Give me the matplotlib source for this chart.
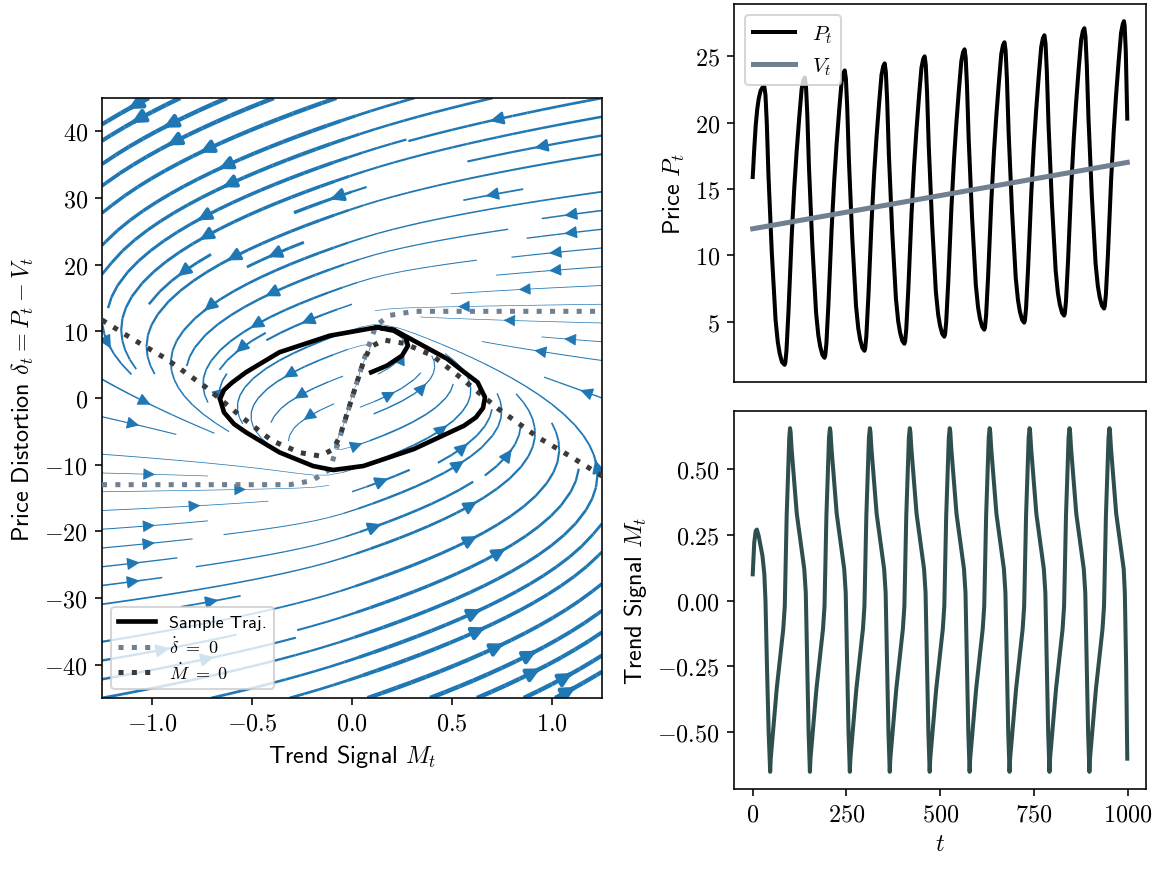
"""
Phase portrait of a trend / price-distortion model plus its time series.
"""

import numpy as np
import matplotlib
matplotlib.use("Agg")
import matplotlib.pyplot as plt
import matplotlib.ticker as ticker


# ─────────────────────────────────────────────
# model parameters (vector field for the streamplot)
# ─────────────────────────────────────────────
ALPHA = 0.05      # mean reversion of the distortion
BETA = 0.65       # trend-following strength
GAMMA = 10.0      # tanh steepness
C_M = 0.1         # adaptation speed of the trend signal
V_DRIFT = 0.005   # growth of the fundamental value

# ─────────────────────────────────────────────
# nullclines
# ─────────────────────────────────────────────
ddot_null_M = [-1.25, -0.31, -0.20, -0.11, -0.06, 0.0, 0.06, 0.12, 0.19, 0.31, 1.25]
ddot_null_d = [-13.0, -13.0, -12.4, -10.7, -5.8, 0.0, 5.8, 10.9, 12.4, 13.0, 13.0]

mdot_null_M = [-1.25, -1.10, -0.93, -0.73, -0.55, -0.40, -0.26, -0.16, -0.094, -0.06,
               0.0, 0.06, 0.094, 0.16, 0.26, 0.40, 0.55, 0.73, 0.93, 1.10, 1.25]
mdot_null_d = [11.7, 8.9, 5.9, 1.6, -2.9, -6.4, -8.2, -8.7, -7.7, -5.7,
               0.0, 5.7, 7.7, 8.7, 8.2, 6.4, 2.9, -1.6, -5.9, -8.9, -11.7]

# sample trajectory in the phase plane (start hook + limit cycle)
traj_M = [0.096, 0.175, 0.25, 0.28, 0.267, 0.208, 0.124, -0.111, -0.363, -0.53, -0.60,
          -0.64, -0.66, -0.64, -0.59, -0.53, -0.363, -0.195, -0.094, 0.057, 0.309,
          0.56, 0.62, 0.655, 0.665, 0.628, 0.56, 0.477, 0.309, 0.208, 0.124]
traj_d = [3.86, 4.85, 6.35, 7.85, 9.1, 10.1, 10.6, 9.35, 6.86, 3.86, 2.3,
          1.2, -0.15, -2.15, -3.9, -5.15, -8.15, -10.2, -10.8, -10.2, -7.66,
          -4.16, -2.9, -1.5, 0.1, 2.36, 3.9, 5.86, 8.6, 10.26, 10.6]

# ─────────────────────────────────────────────
# time series
# ─────────────────────────────────────────────
t_P = [0, 4, 8, 12, 16, 21, 26, 31, 34, 37.5, 42, 51, 61, 67, 72, 78,
       85, 87, 90, 95.5, 104, 111, 117, 124, 130.5, 135,
       139, 142, 145.5, 150, 159, 169, 175, 180, 186,
       191.5, 193.5, 196.5, 202, 210.5, 217.5, 223.5, 230.5, 237, 241.5,
       245.5, 248.5, 252, 256.5, 265.5, 275.5, 281.5, 286.5, 292.5,
       298, 300, 303, 308.5, 317, 324, 330, 337, 343.5, 348,
       352, 355, 358.5, 363, 372, 382, 388, 393, 399,
       404.5, 406.5, 409.5, 415, 423.5, 430.5, 436.5, 443.5, 450, 454.5,
       458.5, 461.5, 465, 469.5, 478.5, 488.5, 494.5, 499.5, 505.5,
       511, 513, 516, 521.5, 530, 537, 543, 550, 556.5, 561,
       565, 568, 571.5, 576, 585, 595, 601, 606, 612,
       617.5, 619.5, 622.5, 628, 636.5, 643.5, 649.5, 656.5, 663, 667.5,
       671.5, 674.5, 678, 682.5, 691.5, 701.5, 707.5, 712.5, 718.5,
       724, 726, 729, 734.5, 743, 750, 756, 763, 769.5, 774,
       778, 781, 784.5, 789, 798, 808, 814, 819, 825,
       830.5, 832.5, 835.5, 841, 849.5, 856.5, 862.5, 869.5, 876, 880.5,
       884.5, 887.5, 891, 895.5, 904.5, 914.5, 920.5, 925.5, 931.5,
       937, 939, 942, 947.5, 956, 963, 969, 976, 982.5, 987,
       990, 992, 995, 999]
P = [15.9, 18.0, 19.8, 21.0, 21.8, 22.4, 22.65, 22.7, 22.07, 19.98, 16.0, 10.13, 5.10, 3.43, 2.59, 1.96,
     1.75, 1.92, 2.83, 5.86, 11.49, 15.17, 17.77, 20.37, 22.53, 23.18,
     23.4, 22.77, 20.65, 16.64, 10.73, 5.66, 3.97, 3.12, 2.49,
     2.28, 2.45, 3.36, 6.39, 12.02, 15.70, 18.30, 20.90, 23.06, 23.71,
     23.93, 23.30, 21.18, 17.17, 11.26, 6.19, 4.50, 3.65, 3.02,
     2.81, 2.98, 3.89, 6.92, 12.55, 16.23, 18.83, 21.43, 23.59, 24.24,
     24.46, 23.83, 21.71, 17.70, 11.79, 6.72, 5.03, 4.18, 3.55,
     3.34, 3.51, 4.42, 7.45, 13.08, 16.76, 19.36, 21.96, 24.12, 24.77,
     24.99, 24.36, 22.24, 18.23, 12.32, 7.25, 5.56, 4.71, 4.08,
     3.87, 4.04, 4.95, 7.98, 13.61, 17.29, 19.89, 22.49, 24.65, 25.30,
     25.52, 24.89, 22.77, 18.76, 12.85, 7.78, 6.09, 5.24, 4.61,
     4.40, 4.57, 5.48, 8.51, 14.14, 17.82, 20.42, 23.02, 25.18, 25.83,
     26.05, 25.42, 23.30, 19.29, 13.38, 8.31, 6.62, 5.77, 5.14,
     4.93, 5.10, 6.01, 9.04, 14.67, 18.35, 20.95, 23.55, 25.71, 26.36,
     26.58, 25.95, 23.83, 19.82, 13.91, 8.84, 7.15, 6.30, 5.67,
     5.46, 5.63, 6.54, 9.57, 15.20, 18.88, 21.48, 24.08, 26.24, 26.89,
     27.11, 26.48, 24.36, 20.35, 14.44, 9.37, 7.68, 6.83, 6.20,
     5.99, 6.16, 7.07, 10.10, 15.73, 19.41, 22.01, 24.61, 26.77, 27.42,
     27.64, 27.3, 25.4, 20.3]

t_V = [0, 999]
V = [12.0, 17.0]

t_M = [0, 4, 8, 11, 16, 26, 31, 34, 38, 42.5, 46.5,
       48, 64, 81.5, 85.5, 90.5, 97.5, 99.5, 101, 103.5, 117.5, 137.5, 141.5, 145.5, 149, 152.5,
       154, 170, 187.5, 191.5, 196.5, 203.5, 206, 207.5, 210, 224, 244, 248, 252, 255.5, 259,
       260.5, 276.5, 294, 298, 303, 310, 312.5, 314, 316.5, 330.5, 350.5, 354.5, 358.5, 362, 365.5,
       367, 383, 400.5, 404.5, 409.5, 416.5, 419, 420.5, 423, 437, 457, 461, 465, 468.5, 472,
       473.5, 489.5, 507, 511, 516, 523, 525.5, 527, 529.5, 543.5, 563.5, 567.5, 571.5, 575, 578.5,
       580, 596, 613.5, 617.5, 622.5, 629.5, 632, 633.5, 636, 650, 670, 674, 678, 681.5, 685,
       686.5, 702.5, 720, 724, 729, 736, 738.5, 740, 742.5, 756.5, 776.5, 780.5, 784.5, 788, 791.5,
       793, 809, 826.5, 830.5, 835.5, 842.5, 845, 846.5, 849, 863, 883, 887, 891, 894.5, 898,
       899.5, 915.5, 933, 937, 942, 949, 951.5, 953, 955.5, 969.5, 989.5, 992.5, 996, 999]
M = [0.10, 0.22, 0.265, 0.27, 0.245, 0.17, 0.10, 0.0, -0.25, -0.50, -0.65,
     -0.60, -0.334, -0.107, -0.02, 0.32, 0.62, 0.655, 0.64, 0.58, 0.33, 0.12, 0.03, -0.25, -0.50, -0.65,
     -0.60, -0.334, -0.107, -0.02, 0.32, 0.62, 0.655, 0.64, 0.58, 0.33, 0.12, 0.03, -0.25, -0.50, -0.65,
     -0.60, -0.334, -0.107, -0.02, 0.32, 0.62, 0.655, 0.64, 0.58, 0.33, 0.12, 0.03, -0.25, -0.50, -0.65,
     -0.60, -0.334, -0.107, -0.02, 0.32, 0.62, 0.655, 0.64, 0.58, 0.33, 0.12, 0.03, -0.25, -0.50, -0.65,
     -0.60, -0.334, -0.107, -0.02, 0.32, 0.62, 0.655, 0.64, 0.58, 0.33, 0.12, 0.03, -0.25, -0.50, -0.65,
     -0.60, -0.334, -0.107, -0.02, 0.32, 0.62, 0.655, 0.64, 0.58, 0.33, 0.12, 0.03, -0.25, -0.50, -0.65,
     -0.60, -0.334, -0.107, -0.02, 0.32, 0.62, 0.655, 0.64, 0.58, 0.33, 0.12, 0.03, -0.25, -0.50, -0.65,
     -0.60, -0.334, -0.107, -0.02, 0.32, 0.62, 0.655, 0.64, 0.58, 0.33, 0.12, 0.03, -0.25, -0.50, -0.65,
     -0.60, -0.334, -0.107, -0.02, 0.32, 0.62, 0.655, 0.64, 0.58, 0.33, 0.12, 0.03, -0.25, -0.60]

STREAM_COLOR = "#1f77b4"
DDOT_COLOR = "#708090"
MDOT_COLOR = "#3a3a3a"
M_COLOR = "#2f4f4f"

plt.rcParams.update({
    "font.family": ["cmss10", "DejaVu Sans"],
    "mathtext.fontset": "cm",
    "axes.unicode_minus": False,
    "font.size": 12,
})


def math_fmt(fmt):
    return ticker.FuncFormatter(lambda v, p: "$" + format(v, fmt) + "$")


fig = plt.figure(figsize=(1162 / 145, 872 / 145), dpi=145)
ax_ph = fig.add_axes([102 / 1162, 173 / 872, 500 / 1162, 600 / 872])
ax_p = fig.add_axes([734 / 1162, 489 / 872, 412 / 1162, 378 / 872])
ax_m = fig.add_axes([734 / 1162, 82 / 872, 412 / 1162, 378 / 872], sharex=ax_p)

# ── phase portrait ──
mg, dg = np.meshgrid(np.linspace(-1.25, 1.25, 80), np.linspace(-45, 45, 80))
d_dot = -ALPHA * dg + BETA * np.tanh(GAMMA * mg)
m_dot = C_M * (d_dot + V_DRIFT - mg)
speed = np.hypot(d_dot, m_dot)
lw = 0.25 + 2.0 * speed / speed.max()
ax_ph.streamplot(mg, dg, m_dot, d_dot, color=STREAM_COLOR, linewidth=lw,
                 density=1.1, arrowsize=1.3, zorder=1)

ax_ph.plot(traj_M, traj_d, color="black", lw=2.3, label="Sample Traj.", zorder=4,
           solid_joinstyle="round")
ax_ph.plot(ddot_null_M, ddot_null_d, color=DDOT_COLOR, lw=2.5, ls=":",
           label=r"$\dot{\delta}\ =\ 0$", zorder=3)
ax_ph.plot(mdot_null_M, mdot_null_d, color=MDOT_COLOR, lw=2.5, ls=":",
           label=r"$\dot{M}\ =\ 0$", zorder=3)

ax_ph.set_xlim(-1.25, 1.25)
ax_ph.set_ylim(-45, 45)
ax_ph.set_xticks([-1.0, -0.5, 0.0, 0.5, 1.0])
ax_ph.set_yticks(range(-40, 41, 10))
ax_ph.xaxis.set_major_formatter(math_fmt(".1f"))
ax_ph.yaxis.set_major_formatter(math_fmt(".0f"))
ax_ph.set_xlabel(r"Trend Signal $M_t$")
ax_ph.set_ylabel(r"Price Distortion $\delta_t = P_t - V_t$")
ax_ph.legend(loc="lower left", fontsize=9, labelspacing=0.3)

# ── price ──
ax_p.plot(t_P, P, color="black", lw=2, label="$P_t$", solid_joinstyle="round")
ax_p.plot(t_V, V, color=DDOT_COLOR, lw=2.5, label="$V_t$")
ax_p.set_yticks([5, 10, 15, 20, 25])
ax_p.yaxis.set_major_formatter(math_fmt(".0f"))
ax_p.set_ylabel(r"Price $P_t$")
ax_p.tick_params(bottom=False, labelbottom=False)
ax_p.legend(loc="upper left", fontsize=10.5)

# ── trend signal ──
ax_m.plot(t_M, M, color=M_COLOR, lw=2, solid_joinstyle="round")
ax_m.set_xticks([0, 250, 500, 750, 1000])
ax_m.set_yticks([-0.5, -0.25, 0.0, 0.25, 0.5])
ax_m.xaxis.set_major_formatter(math_fmt(".0f"))
ax_m.yaxis.set_major_formatter(math_fmt(".2f"))
ax_m.set_xlabel("$t$")
ax_m.set_ylabel(r"Trend Signal $M_t$")

fig.savefig("out.png", dpi=145)
